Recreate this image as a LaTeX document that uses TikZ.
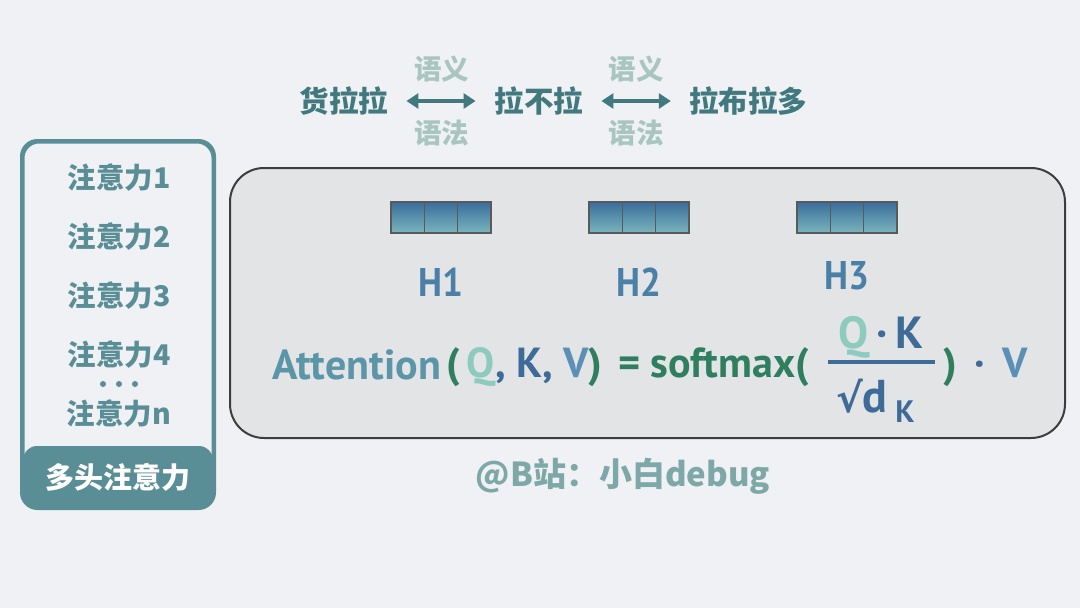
\documentclass[tikz,border=0pt]{standalone}
\usepackage{fontspec}
\usetikzlibrary{arrows.meta,positioning,calc}
\newfontfamily\cjk{Noto Sans CJK SC}
\newfontfamily\formfont{PT Sans}
\newfontfamily\headfont{PT Sans}[FakeStretch=0.92]
\newfontfamily\symfont{DejaVu Sans}
\definecolor{PageBg}{HTML}{EFF1F4}
\definecolor{BoxBg}{HTML}{E3E4E6}
\definecolor{BoxLine}{HTML}{3D3D3D}
\definecolor{PanelTeal}{HTML}{5A8E96}
\definecolor{WordTeal}{HTML}{41797F}
\definecolor{SoftTeal}{HTML}{A8C6BF}
\definecolor{HeadBlue}{HTML}{4A80A6}
\definecolor{AttnTeal}{HTML}{5B95A8}
\definecolor{QTeal}{HTML}{8CCBBE}
\definecolor{KBlue}{HTML}{3E6B98}
\definecolor{VBlue}{HTML}{5A90B6}
\definecolor{SoftGreen}{HTML}{2F7E60}
\definecolor{MarkTeal}{HTML}{7EA7A7}
\definecolor{CellTop}{HTML}{3A6D9C}
\definecolor{CellBot}{HTML}{7AB5BC}

\begin{document}
\begin{tikzpicture}[x=1pt, y=-1pt,
    word/.style={font=\cjk\bfseries\fontsize{29.5}{32}\selectfont, text=WordTeal, inner sep=0pt},
    rel/.style={font=\cjk\bfseries\fontsize{27.5}{30}\selectfont, text=SoftTeal, inner sep=0pt},
    head/.style={font=\cjk\bfseries\fontsize{28.5}{31}\selectfont, text=PanelTeal, inner sep=0pt},
    link/.style={{Triangle[length=12pt,width=15pt]}-{Triangle[length=12pt,width=15pt]}, draw=WordTeal, line width=3.4pt},
    cell/.style={draw=BoxLine!85, line width=1.2pt, top color=CellTop, bottom color=CellBot, minimum width=33.3pt, minimum height=31pt, inner sep=0pt, outer sep=0pt},
    hlabel/.style={font=\headfont\bfseries\fontsize{40}{44}\selectfont, text=HeadBlue, inner sep=0pt},
    formula/.style={font=\formfont\bfseries\fontsize{42}{46}\selectfont, inner sep=0pt}
  ]
    \useasboundingbox (0,0) rectangle (1080,608);
    \fill[PageBg] (0,0) rectangle (1080,608);

    % word relations on top
    \node[word] (w1) at (344,101) {货拉拉};
    \node[word] (w2) at (539,101) {拉不拉};
    \node[word] (w3) at (748,101) {拉布拉多};
    \draw[link, shorten <=18pt, shorten >=19pt] (w1) -- node[rel, above=17pt] (sem1) {语义} node[rel, below=17pt] (syn1) {语法} (w2);
    \draw[link, shorten <=18pt, shorten >=18pt] (w2) -- node[rel, above=17pt] (sem2) {语义} node[rel, below=17pt] (syn2) {语法} (w3);

    % left panel
    \node[draw=PanelTeal, line width=3pt, fill=PageBg, rounded corners=16pt, minimum width=190pt, minimum height=365pt] (panel) at (118,324.5) {};
    \fill[PanelTeal, rounded corners=14pt] (23,446) rectangle (213,507);
    \draw[PanelTeal, line width=3pt, rounded corners=16pt] (panel.north west) rectangle (panel.south east);
    \node[head] (a1) at (119,178) {注意力1};
    \node[head] (a2) at (119,237) {注意力2};
    \node[head] (a3) at (119,296) {注意力3};
    \node[head] (a4) at (119,355) {注意力4};
    \node[head] (an) at (119,414) {注意力n};
    \foreach \dx in {-16,0,16}
      \fill[PanelTeal] (119+\dx,384) circle (3pt);
    \node[head, text=white, font=\cjk\bfseries\fontsize{29}{31}\selectfont] (multi) at (118,477) {多头注意力};

    % main board
    \node[draw=BoxLine, line width=2pt, fill=BoxBg, rounded corners=34pt, minimum width=835pt, minimum height=270pt] (board) at (647.5,303) {};

    % head vectors
    \node[cell] (h1a) at (407.7,217.5) {};
    \node[cell, right=0pt of h1a] (h1b) {};
    \node[cell, right=0pt of h1b] (h1c) {};
    \node[cell] (h2a) at (605.7,217.5) {};
    \node[cell, right=0pt of h2a] (h2b) {};
    \node[cell, right=0pt of h2b] (h2c) {};
    \node[cell] (h3a) at (813.7,217.5) {};
    \node[cell, right=0pt of h3a] (h3b) {};
    \node[cell, right=0pt of h3b] (h3c) {};
    \node[hlabel] (lab1) at (441,282) {H1};
    \node[hlabel] (lab2) at (639,282) {H2};
    \node[hlabel] (lab3) at (847,276) {H3};

    % formula
    \node[formula, anchor=base west] (attn) at (272,379) {\color{AttnTeal}Attention};
    \node[formula, anchor=base west] (args) at (446,377) {\color{SoftGreen}(\,\color{QTeal}Q\color{KBlue}, K, \color{VBlue}V\color{SoftGreen})};
    \node[formula, anchor=base west] (soft) at (618,377) {\color{SoftGreen}= softmax(};
    \node[formula, font=\formfont\bfseries\fontsize{45}{48}\selectfont, anchor=base] (qk) at (881,348) {\color{QTeal}Q\color{KBlue}\,·\,K};
    \draw[KBlue, line width=4pt] (828,362) -- (935,362);
    \node[formula, anchor=base west] (dk) at (836,412) {\color{KBlue}{\symfont\bfseries\fontsize{40}{42}\selectfont √}\fontsize{46}{48}\selectfont d\,\raisebox{-10pt}{\fontsize{31}{33}\selectfont K}};
    \node[formula, anchor=base west] (tail) at (943,377) {\color{SoftGreen})\color{KBlue}\ \,·\ \,\color{VBlue}V};

    \node[font=\cjk\bfseries\fontsize{33}{36}\selectfont, text=MarkTeal, inner sep=0pt] (mark) at (623,476) {@B站：小白debug};
\end{tikzpicture}
\end{document}
